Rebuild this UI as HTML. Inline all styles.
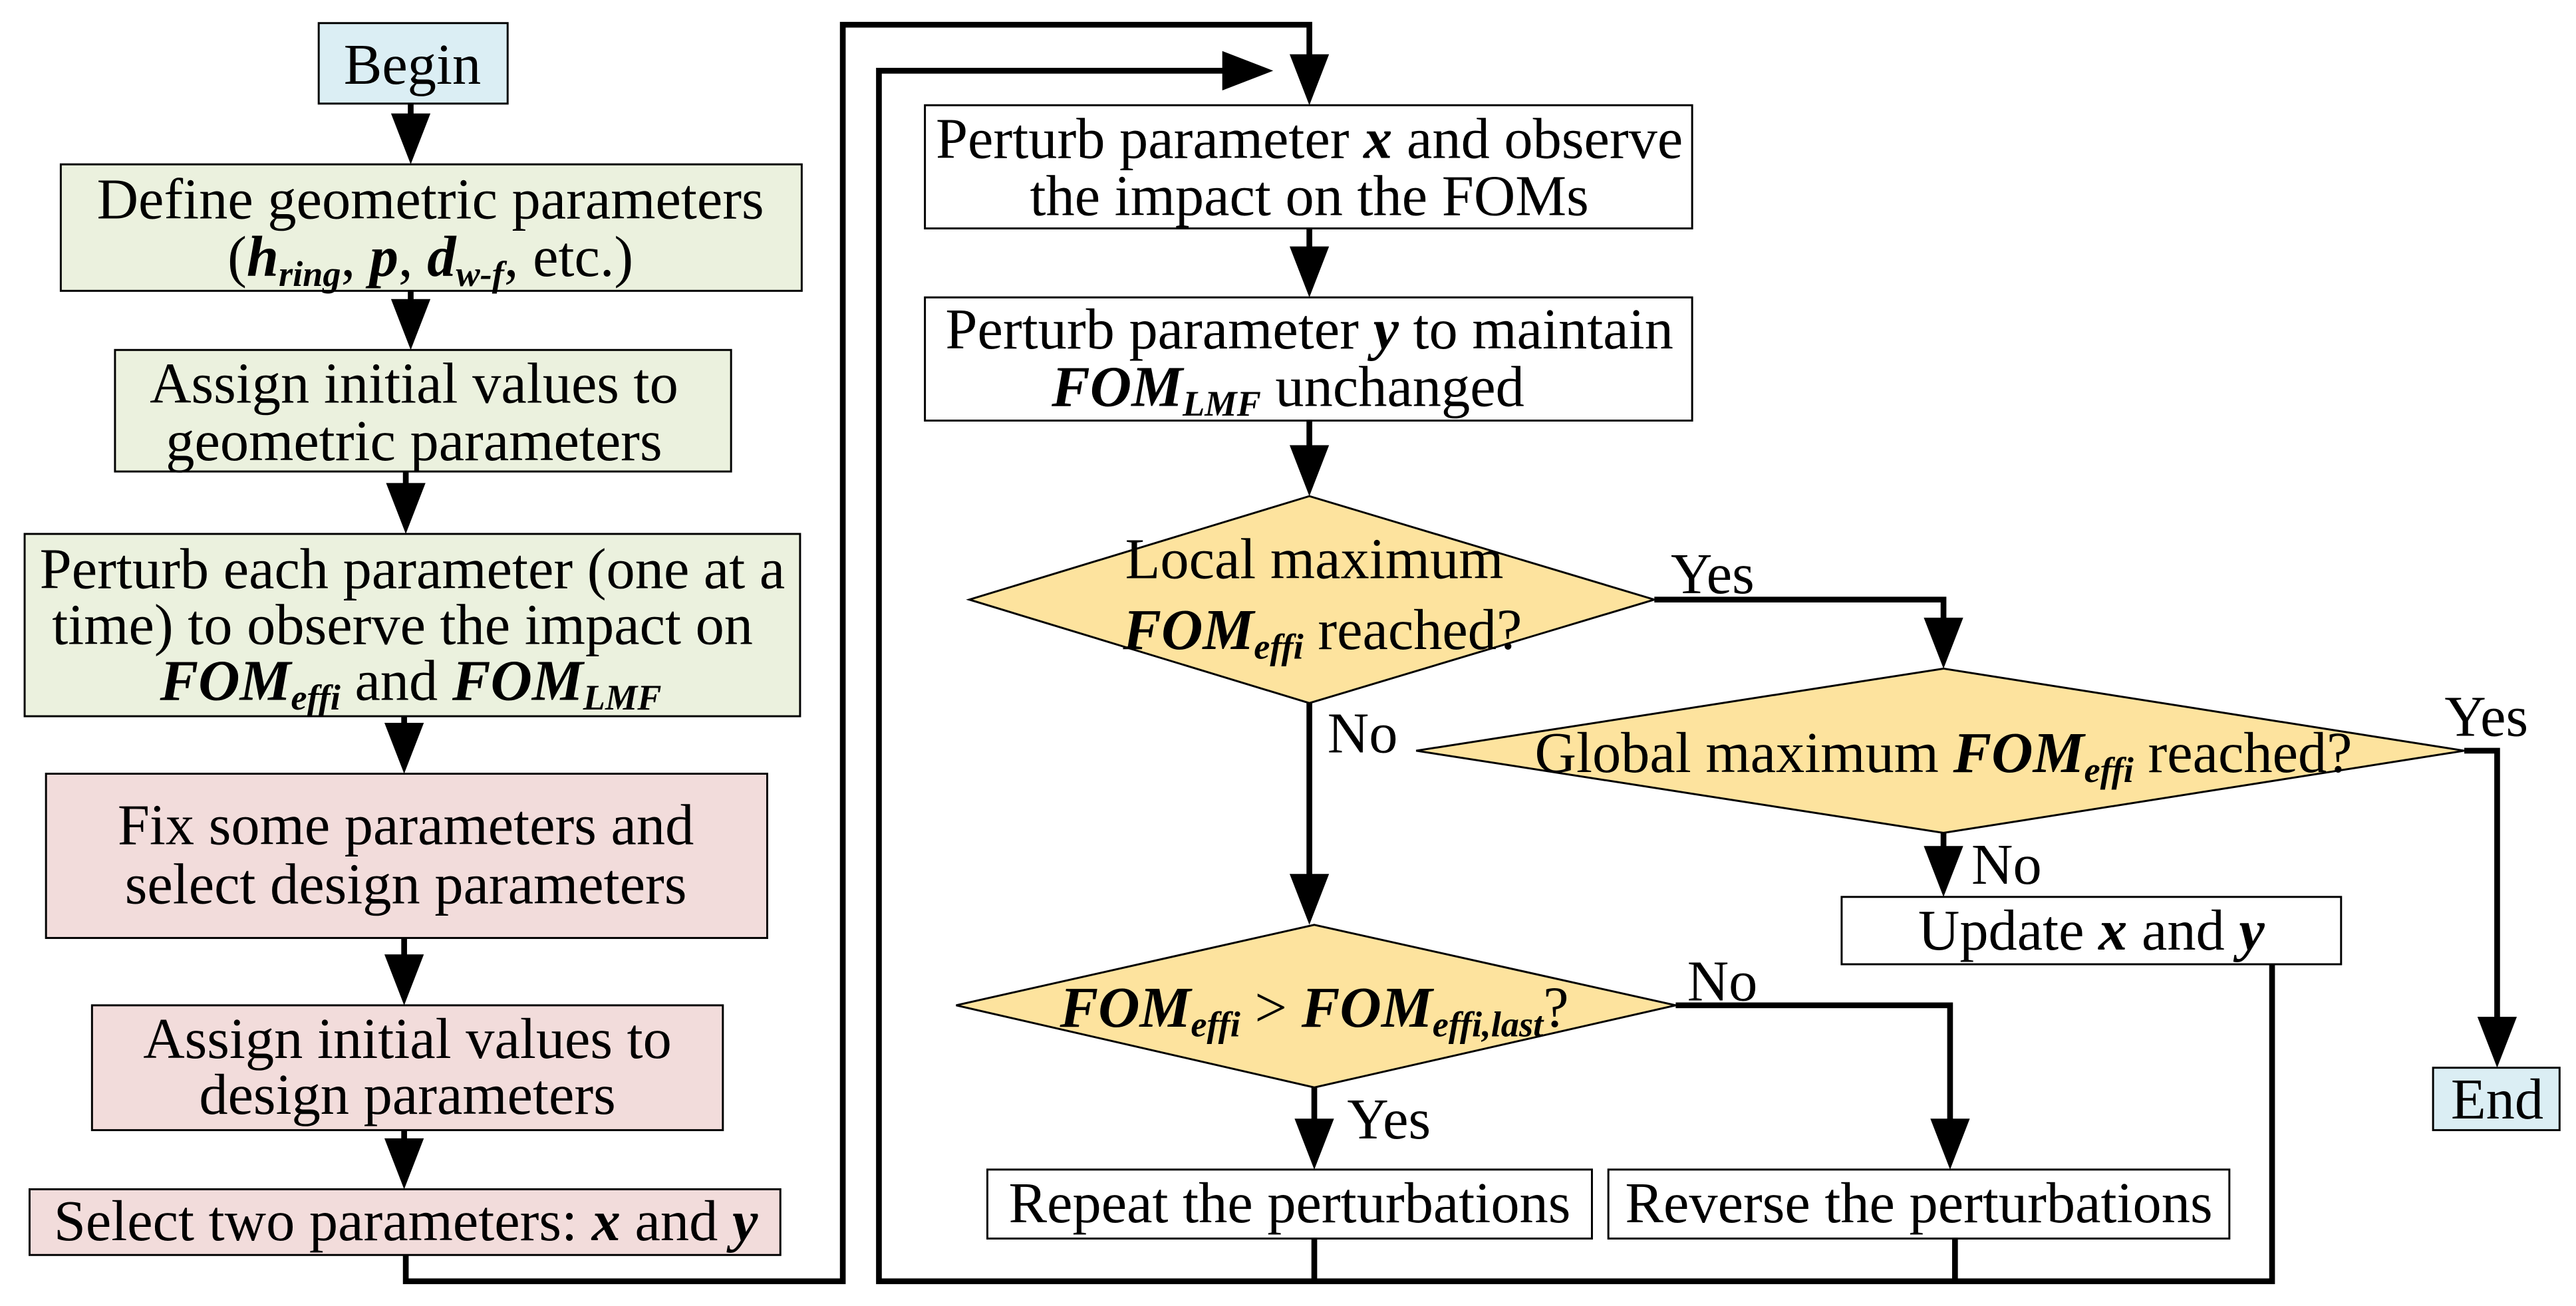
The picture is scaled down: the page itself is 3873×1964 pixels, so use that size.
<!DOCTYPE html>
<html><head><meta charset="utf-8"><style>
html,body{margin:0;padding:0;background:#fff;}
svg{display:block;}
text{font-family:"Liberation Serif","Times New Roman",serif;font-size:35px;fill:#000;}
.b{font-weight:bold;font-style:italic;}
.s{font-size:22px;}
</style></head><body>
<svg width="3873" height="1964" viewBox="0 0 1568 795" xmlns="http://www.w3.org/2000/svg">
<g stroke="#000" stroke-width="1.2">
<rect x="194" y="14" width="115" height="49" fill="#dbeef4"/>
<rect x="37" y="100" width="451" height="77" fill="#ebf1de"/>
<rect x="70" y="213" width="375" height="74" fill="#ebf1de"/>
<rect x="15" y="325" width="472" height="111" fill="#ebf1de"/>
<rect x="28" y="471" width="439" height="100" fill="#f2dcdb"/>
<rect x="56" y="612" width="384" height="76" fill="#f2dcdb"/>
<rect x="18" y="724" width="457" height="40" fill="#f2dcdb"/>
<rect x="563" y="64" width="467" height="75" fill="#fff"/>
<rect x="563" y="181" width="467" height="75" fill="#fff"/>
<polygon points="797,302 1007,365 797,428 590,365" fill="#fde39e"/>
<polygon points="1183,407 1500,457 1183,507 862,457" fill="#fde39e"/>
<polygon points="800,563 1020,612 800,662 582,612" fill="#fde39e"/>
<rect x="1121" y="546" width="304" height="41" fill="#fff"/>
<rect x="601" y="712" width="368" height="42" fill="#fff"/>
<rect x="979" y="712" width="378" height="42" fill="#fff"/>
<rect x="1481" y="650" width="77" height="38" fill="#dbeef4"/>
</g>
<g stroke="#000" stroke-width="3.5" fill="none" stroke-linejoin="miter">
<line x1="250" y1="63" x2="250" y2="80"/>
<line x1="250" y1="177" x2="250" y2="193"/>
<line x1="247" y1="287" x2="247" y2="305"/>
<line x1="246" y1="436" x2="246" y2="451"/>
<line x1="246" y1="571" x2="246" y2="592"/>
<line x1="246" y1="688" x2="246" y2="704"/>
<polyline points="247,764 247,780 513,780 513,15 797,15 797,44"/>
<polyline points="1383,587 1383,780 535,780 535,43 755,43"/>
<line x1="797" y1="139" x2="797" y2="161"/>
<line x1="797" y1="256" x2="797" y2="282"/>
<polyline points="1007,365 1183,365 1183,387"/>
<polyline points="1500,457 1520,457 1520,630"/>
<line x1="1183" y1="507" x2="1183" y2="526"/>
<line x1="797" y1="428" x2="797" y2="543"/>
<polyline points="1020,612 1187,612 1187,692"/>
<line x1="800" y1="662" x2="800" y2="692"/>
<line x1="800" y1="754" x2="800" y2="780"/>
<line x1="1190" y1="754" x2="1190" y2="780"/>
</g>
<g fill="#000">
<polygon points="238,69 262,69 250,100"/>
<polygon points="238,182 262,182 250,213"/>
<polygon points="235,294 259,294 247,325"/>
<polygon points="234,440 258,440 246,471"/>
<polygon points="234,581 258,581 246,612"/>
<polygon points="234,693 258,693 246,724"/>
<polygon points="785,33 809,33 797,64"/>
<polygon points="744,31 744,55 775,43"/>
<polygon points="785,150 809,150 797,181"/>
<polygon points="785,271 809,271 797,302"/>
<polygon points="1171,376 1195,376 1183,407"/>
<polygon points="1508,619 1532,619 1520,650"/>
<polygon points="1171,515 1195,515 1183,546"/>
<polygon points="785,532 809,532 797,563"/>
<polygon points="1175,681 1199,681 1187,712"/>
<polygon points="788,681 812,681 800,712"/>
</g>
<g text-anchor="middle">
<text x="251" y="51">Begin</text>
<text x="262" y="133">Define geometric parameters</text>
<text x="262" y="168">(<tspan class="b">h</tspan><tspan class="b s" dy="6">ring</tspan><tspan dy="-6">, </tspan><tspan class="b">p</tspan>, <tspan class="b">d</tspan><tspan class="b s" dy="6">w-f</tspan><tspan dy="-6">, etc.)</tspan></text>
<text x="252" y="245">Assign initial values to</text>
<text x="252" y="280">geometric parameters</text>
<text x="251" y="358">Perturb each parameter (one at a</text>
<text x="245" y="392">time) to observe the impact on</text>
<text x="250" y="426"><tspan class="b">FOM</tspan><tspan class="b s" dy="6">effi</tspan><tspan dy="-6">  and </tspan><tspan class="b">FOM</tspan><tspan class="b s" dy="6">LMF</tspan></text>
<text x="247" y="514">Fix some parameters and</text>
<text x="247" y="550">select design parameters</text>
<text x="248" y="644">Assign initial values to</text>
<text x="248" y="678">design parameters</text>
<text x="247" y="755">Select two parameters: <tspan class="b">x</tspan> and <tspan class="b">y</tspan></text>
<text x="797" y="96">Perturb parameter <tspan class="b">x</tspan> and observe</text>
<text x="797" y="131">the impact on the FOMs</text>
<text x="797" y="212">Perturb parameter <tspan class="b">y</tspan> to maintain</text>
<text x="784" y="247"><tspan class="b">FOM</tspan><tspan class="b s" dy="6">LMF</tspan><tspan dy="-6"> unchanged</tspan></text>
<text x="800" y="352">Local maximum</text>
<text x="805" y="395"><tspan class="b">FOM</tspan><tspan class="b s" dy="6">effi</tspan><tspan dy="-6"> reached?</tspan></text>
<text x="1183" y="470">Global maximum <tspan class="b">FOM</tspan><tspan class="b s" dy="6">effi</tspan><tspan dy="-6"> reached?</tspan></text>
<text x="800" y="625"><tspan class="b">FOM</tspan><tspan class="b s" dy="6">effi</tspan><tspan dy="-6"> &gt; </tspan><tspan class="b">FOM</tspan><tspan class="b s" dy="6">effi,last</tspan><tspan dy="-6">?</tspan></text>
<text x="1273" y="578">Update <tspan class="b">x</tspan> and <tspan class="b">y</tspan></text>
<text x="785" y="744">Repeat the perturbations</text>
<text x="1168" y="744">Reverse the perturbations</text>
<text x="1520" y="681">End</text>
</g>
<g>
<text x="1017" y="361">Yes</text>
<text x="1488" y="448">Yes</text>
<text x="808" y="458">No</text>
<text x="1200" y="538">No</text>
<text x="1027" y="609">No</text>
<text x="820" y="693">Yes</text>
</g>
</svg>
</body></html>
